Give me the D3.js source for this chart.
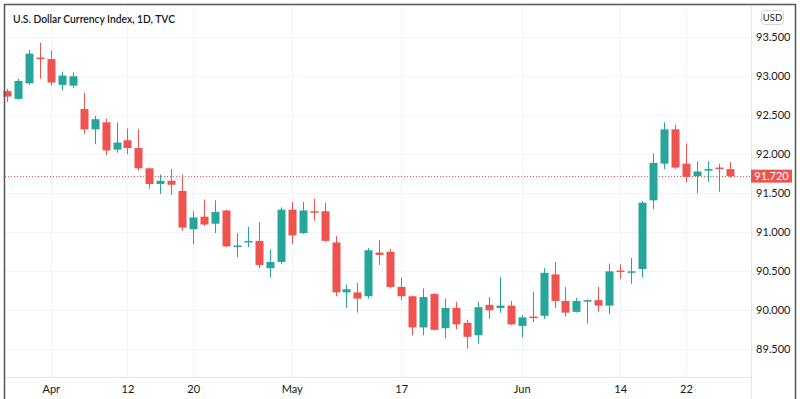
<!DOCTYPE html>
<html>
<head>
<meta charset="utf-8">
<script src="https://cdn.jsdelivr.net/npm/d3@7"></script>
<style>
  body { margin: 0; background: #fff; }
  #chart-container { width: 800px; height: 399px; }
  text { font-family: Lato, "Open Sans", sans-serif; }
</style>
</head>
<body>
<div id="chart-container"></div>
<script>
// Trading days shown on the chart (daily candles)
const dates = [
  '2021-03-26', '2021-03-29', '2021-03-30', '2021-03-31', '2021-04-01', '2021-04-02',
  '2021-04-05', '2021-04-06', '2021-04-07', '2021-04-08', '2021-04-09',
  '2021-04-12', '2021-04-13', '2021-04-14', '2021-04-15', '2021-04-16',
  '2021-04-19', '2021-04-20', '2021-04-21', '2021-04-22', '2021-04-23',
  '2021-04-26', '2021-04-27', '2021-04-28', '2021-04-29', '2021-04-30',
  '2021-05-03', '2021-05-04', '2021-05-05', '2021-05-06', '2021-05-07',
  '2021-05-10', '2021-05-11', '2021-05-12', '2021-05-13', '2021-05-14',
  '2021-05-17', '2021-05-18', '2021-05-19', '2021-05-20', '2021-05-21',
  '2021-05-24', '2021-05-25', '2021-05-26', '2021-05-27', '2021-05-28',
  '2021-05-31', '2021-06-01', '2021-06-02', '2021-06-03', '2021-06-04',
  '2021-06-07', '2021-06-08', '2021-06-09', '2021-06-10', '2021-06-11',
  '2021-06-14', '2021-06-15', '2021-06-16', '2021-06-17', '2021-06-18',
  '2021-06-21', '2021-06-22', '2021-06-23', '2021-06-24', '2021-06-25',
  '2021-06-28'
];

// OHLC values
const opens = [
  92.81, 92.71, 92.91, 93.24, 93.22, 92.89, 92.88, 92.58, 92.32, 92.41, 92.06,
  92.18, 92.08, 91.82, 91.62, 91.66, 91.53, 91.04, 91.20, 91.11, 91.28,
  90.82, 90.87, 90.89, 90.54, 90.62, 91.29, 90.99, 91.27, 91.27, 90.87,
  90.23, 90.23, 90.18, 90.74, 90.75, 90.30, 90.18, 89.78, 90.21, 89.77,
  90.03, 89.84, 89.68, 90.07, 90.03, 90.06, 89.80, 89.92, 89.93, 90.46,
  90.12, 89.98, 90.12, 90.13, 90.06, 90.51, 90.49, 90.53, 91.41, 91.88,
  92.32, 91.88, 91.72, 91.79, 91.83, 91.81
];
const highs = [
  92.84, 92.97, 93.34, 93.43, 93.33, 93.06, 93.05, 92.79, 92.49, 92.46, 92.41,
  92.33, 92.32, 91.83, 91.74, 91.81, 91.74, 91.27, 91.42, 91.41, 91.29,
  90.99, 91.07, 91.13, 90.78, 91.32, 91.39, 91.39, 91.43, 91.38, 90.95,
  90.33, 90.35, 90.80, 90.90, 90.79, 90.42, 90.19, 90.28, 90.22, 90.15,
  90.11, 89.88, 90.11, 90.17, 90.43, 90.12, 89.94, 90.24, 90.54, 90.62,
  90.30, 90.16, 90.14, 90.30, 90.60, 90.59, 90.67, 91.40, 92.01, 92.41,
  92.38, 92.14, 91.91, 91.91, 91.88, 91.90
];
const lows = [
  92.67, 92.70, 92.89, 92.97, 92.88, 92.82, 92.85, 92.26, 92.13, 91.99, 92.02,
  92.00, 91.79, 91.56, 91.49, 91.48, 91.02, 90.85, 91.08, 90.99, 90.81,
  90.68, 90.81, 90.54, 90.42, 90.59, 90.85, 90.98, 91.15, 90.88, 90.18,
  90.03, 89.97, 90.15, 90.58, 90.28, 90.13, 89.68, 89.68, 89.74, 89.64,
  89.76, 89.51, 89.57, 89.89, 89.97, 89.81, 89.65, 89.85, 89.89, 90.03,
  89.92, 89.97, 89.83, 89.98, 89.95, 90.40, 90.34, 90.42, 91.30, 91.81,
  91.81, 91.64, 91.50, 91.65, 91.52, 91.70
];
const closes = [
  92.74, 92.94, 93.29, 93.23, 92.92, 93.01, 93.00, 92.32, 92.45, 92.05, 92.15,
  92.08, 91.82, 91.62, 91.66, 91.61, 91.06, 91.19, 91.10, 91.26, 90.82,
  90.83, 90.89, 90.58, 90.62, 91.29, 90.96, 91.28, 91.26, 90.89, 90.23,
  90.27, 90.15, 90.77, 90.71, 90.30, 90.18, 89.78, 90.17, 89.75, 90.03,
  89.82, 89.66, 90.04, 90.00, 90.06, 89.82, 89.91, 89.90, 90.48, 90.12,
  89.97, 90.12, 90.13, 90.06, 90.50, 90.50, 90.50, 91.38, 91.89, 92.32,
  91.83, 91.71, 91.78, 91.81, 91.81, 91.72
];

// Axis labels
const priceTicks = [89.5, 90.0, 90.5, 91.0, 91.5, 92.0, 92.5, 93.0, 93.5];
const timeTickDates = ['2021-04-01', '2021-04-12', '2021-04-20', '2021-05-03', '2021-05-17', '2021-06-01', '2021-06-14', '2021-06-22'];
const timeTickLabels = ['Apr', '12', '20', 'May', '17', 'Jun', '14', '22'];
const lastPrice = 91.72;

const upColor = '#26a69a';
const downColor = '#ef5350';
const textColor = '#131722';
const gridColor = '#f0f3fa';

function drawChart() {
  const svg = d3.select('#chart-container').append('svg')
    .attr('width', 800).attr('height', 399);

  // plot area (price scale on the right, time scale at the bottom)
  const left = 5, top = 5, right = 751, bottom = 377;

  const xScale = d3.scalePoint().domain(dates).range([7, 7 + 10.95 * (dates.length - 1)]);
  const yScale = d3.scaleLinear().domain([89.145, 93.914]).range([bottom, top]);

  // grid lines
  svg.append('g').selectAll('line').data(priceTicks).join('line')
    .attr('x1', left).attr('x2', right)
    .attr('y1', d => Math.round(yScale(d)) + 0.5).attr('y2', d => Math.round(yScale(d)) + 0.5)
    .attr('stroke', gridColor);
  svg.append('g').selectAll('line').data(timeTickDates).join('line')
    .attr('x1', d => Math.round(xScale(d)) + 0.5).attr('x2', d => Math.round(xScale(d)) + 0.5)
    .attr('y1', top).attr('y2', bottom)
    .attr('stroke', gridColor);

  // last price dotted line
  svg.append('line')
    .attr('x1', left).attr('x2', right)
    .attr('y1', Math.round(yScale(lastPrice)) + 0.5).attr('y2', Math.round(yScale(lastPrice)) + 0.5)
    .attr('stroke', downColor).attr('stroke-dasharray', '1,2');

  const candles = dates.map((d, i) => ({
    date: d, open: opens[i], high: highs[i], low: lows[i], close: closes[i]
  }));
  const bodyWidth = 8;

  const candleGroup = svg.append('g').attr('class', 'candles');
  const candle = candleGroup.selectAll('g').data(candles).join('g')
    .attr('fill', d => d.close >= d.open ? upColor : downColor)
    .attr('stroke', d => d.close >= d.open ? upColor : downColor);

  // wicks
  candle.append('line')
    .attr('x1', d => Math.round(xScale(d.date)) + 0.5)
    .attr('x2', d => Math.round(xScale(d.date)) + 0.5)
    .attr('y1', d => yScale(d.high))
    .attr('y2', d => yScale(d.low))
    .attr('stroke-width', 1);

  // bodies
  candle.append('rect')
    .attr('x', d => Math.round(xScale(d.date)) - bodyWidth / 2 + 0.5)
    .attr('width', bodyWidth)
    .attr('y', d => yScale(Math.max(d.open, d.close)))
    .attr('height', d => Math.max(1.5, Math.abs(yScale(d.open) - yScale(d.close))))
    .attr('stroke', 'none');

  // axis separators
  svg.append('line').attr('x1', right + 0.5).attr('x2', right + 0.5).attr('y1', top).attr('y2', 399)
    .attr('stroke', '#e0e3eb');
  svg.append('line').attr('x1', left).attr('x2', right).attr('y1', bottom + 0.5).attr('y2', bottom + 0.5)
    .attr('stroke', '#e0e3eb');

  // price axis
  const yAxis = d3.axisRight(yScale).tickValues(priceTicks).tickFormat(d3.format('.3f')).tickSize(0).tickPadding(5);
  const yAxisGroup = svg.append('g').attr('transform', `translate(${right}, 0)`).call(yAxis);
  yAxisGroup.select('.domain').remove();
  yAxisGroup.selectAll('text').attr('font-size', 11).attr('fill', textColor)
    .style('font-family', 'Lato, sans-serif');

  // time axis
  const xAxis = d3.axisBottom(xScale).tickValues(timeTickDates)
    .tickFormat((d, i) => timeTickLabels[i]).tickSize(0).tickPadding(8);
  const xAxisGroup = svg.append('g').attr('transform', `translate(0, ${bottom})`).call(xAxis);
  xAxisGroup.select('.domain').remove();
  xAxisGroup.selectAll('text').attr('font-size', 11).attr('fill', textColor)
    .style('font-family', 'Lato, sans-serif');

  // last price label
  const ly = yScale(lastPrice);
  svg.append('rect').attr('x', right).attr('y', ly - 6.5).attr('width', 41).attr('height', 13)
    .attr('fill', downColor);
  svg.append('text').attr('x', right + 20.5).attr('y', ly + 4)
    .attr('text-anchor', 'middle').attr('font-size', 11).attr('fill', '#fff')
    .text(d3.format('.3f')(lastPrice));

  // currency badge
  svg.append('rect').attr('x', 761.5).attr('y', 10.5).attr('width', 22).attr('height', 14).attr('rx', 3)
    .attr('fill', '#fff').attr('stroke', '#d1d4dc');
  svg.append('text').attr('x', 772.5).attr('y', 21).attr('text-anchor', 'middle')
    .attr('font-size', 9.5).attr('fill', textColor).text('USD');

  // title
  svg.append('text').attr('x', 13).attr('y', 23)
    .attr('font-size', 11).attr('font-weight', 600).attr('fill', textColor)
    .attr('textLength', 162).attr('lengthAdjust', 'spacingAndGlyphs')
    .text('U.S. Dollar Currency Index, 1D, TVC');

  // screenshot frame
  svg.append('rect').attr('x', 4.5).attr('y', 4.5).attr('width', 791).attr('height', 400)
    .attr('fill', 'none').attr('stroke', '#555').attr('stroke-width', 1.5);
}

drawChart();
</script>
</body>
</html>
